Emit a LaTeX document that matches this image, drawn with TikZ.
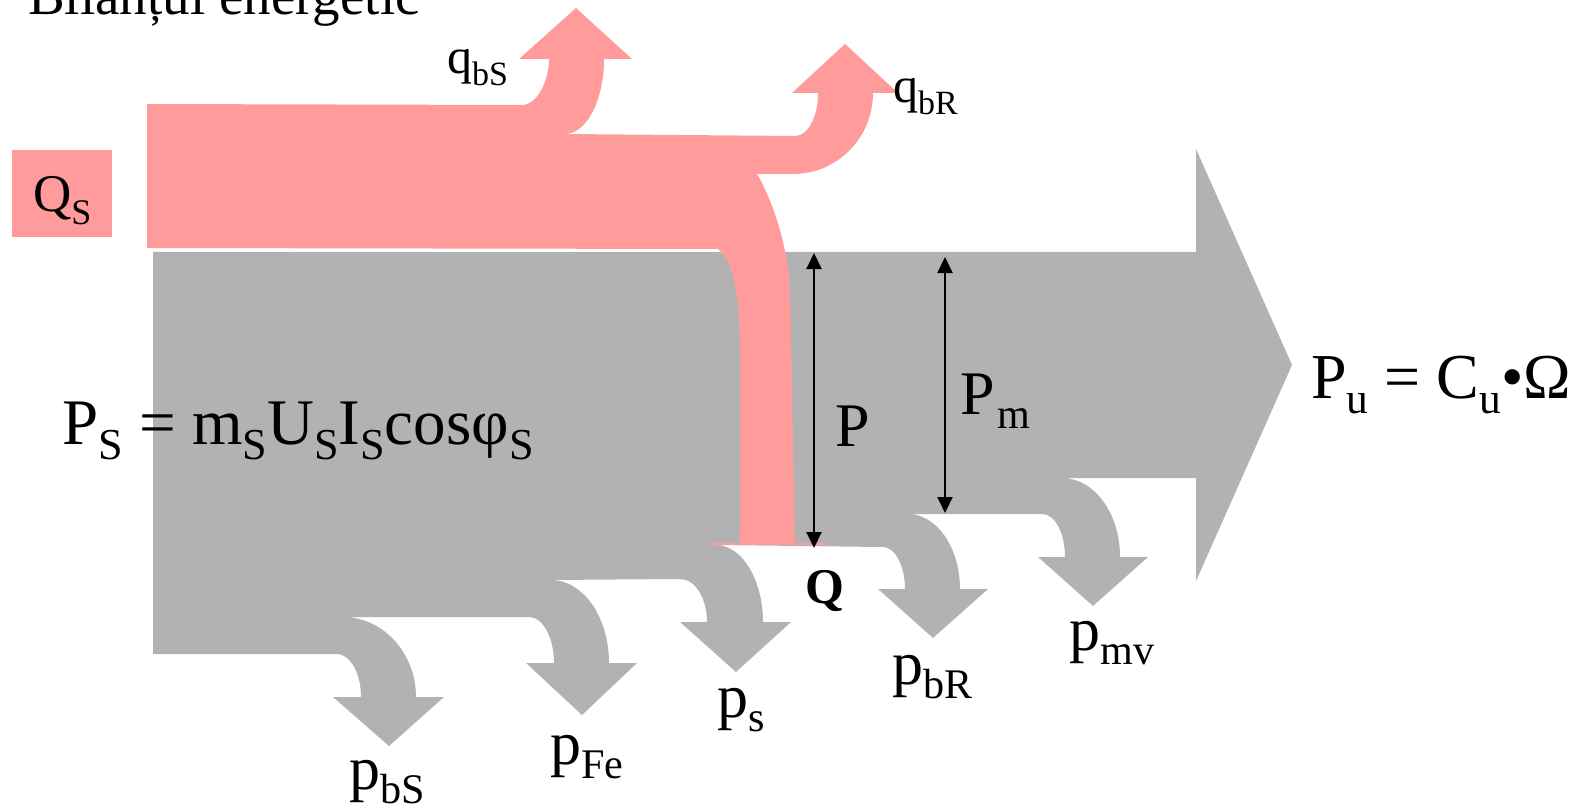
\documentclass[tikz,border=0pt]{standalone}
\usepackage{fontspec}
\setmainfont{Liberation Serif}
\usetikzlibrary{arrows.meta}
\definecolor{pinkflow}{RGB}{255,155,155}
\definecolor{grayflow}{RGB}{178,178,178}
\makeatletter
\newcommand\lowsub[1]{\raisebox{-0.24em}{\fontsize{\fpeval{0.68*\f@size}}{0}\selectfont #1}}
\makeatother
\begin{document}
\begin{tikzpicture}[x=1pt,y=-1pt,
  lbl/.style={inner sep=0pt, anchor=base west, font=\fontsize{62}{62}\selectfont},
  small/.style={inner sep=0pt, anchor=base west, font=\fontsize{50}{50}\selectfont},
  dimarrow/.style={{Triangle[length=16pt,width=15pt]}-{Triangle[length=16pt,width=15pt]}, line width=2pt, black}]
\useasboundingbox (0,0) rectangle (1578,810);

% gray flow (active power and losses)
\fill[grayflow] (153,252) -- (1196,252) -- (1196,149) -- (1292,365) -- (1196,581) -- (1196,478)
  -- (1062,478) .. controls (1094,478) and (1120,513) .. (1120,557)
  -- (1148,557) -- (1093,606) -- (1038,557) -- (1065,557)
  .. controls (1065,533) and (1055,514) .. (1042,514)
  -- (908,514) .. controls (937,514) and (960,548) .. (960,589)
  -- (988,589) -- (933,638) -- (878,589) -- (905,589)
  .. controls (905,566) and (895,547) .. (883,547)
  -- (716,545) .. controls (742,545) and (763,580) .. (763,622)
  -- (791,622) -- (736,672) -- (680,622) -- (707,622)
  .. controls (707,598) and (695,579) .. (680,579)
  -- (551,580) .. controls (583,580) and (609,617) .. (609,663)
  -- (637,663) -- (582,715) -- (526,663) -- (554,663)
  .. controls (554,638) and (543,617) .. (529,617)
  -- (343,617) .. controls (383,617) and (416,653) .. (416,697)
  -- (444,697) -- (389,746) -- (333,697) -- (361,697)
  .. controls (361,673) and (350,654) .. (337,654)
  -- (153,654) -- cycle;

% pink flow (reactive power)
\fill[pinkflow] (147,104) -- (522,105) .. controls (537,105) and (549,81) .. (549,59)
  -- (519,59) -- (576,8) -- (632,59) -- (604,59)
  .. controls (604,101) and (586,134) .. (565,134)
  -- (795,136) .. controls (808,136) and (818,117) .. (818,93)
  -- (792,93) -- (845,44) -- (898,93) -- (873,93)
  .. controls (873,138) and (837,174) .. (793,174)
  -- (757,174) .. controls (775,205) and (788,250) .. (790,290)
  -- (795,543) -- (740,543) -- (740,360)
  .. controls (740,300) and (735,262) .. (718,249)
  -- (147,248) -- cycle;
\fill[pinkflow] (712,542.5) rectangle (825,545);

% Q_S box
\node (qsbox) [fill=pinkflow, minimum width=100pt, minimum height=87pt, inner sep=0pt] at (62,193.5) {};
\node (qs) [lbl, font=\fontsize{53}{53}\selectfont] at (33,212) {Q\lowsub{S}};

% title
\node (title) [lbl, font=\fontsize{55}{55}\selectfont] at (28,15) {Bilanțul energetic};

% labels
\node (qbs) [small] at (447,74) {q\lowsub{bS}};
\node (qbr) [small] at (893,103) {q\lowsub{bR}};
\node (ps) [lbl, font=\fontsize{65}{65}\selectfont] at (62,444) {P\lowsub{S} = m\lowsub{S}U\lowsub{S}I\lowsub{S}cosφ\lowsub{S}};
\node (plbl) [lbl] at (835,446) {P};
\node (pm) [lbl] at (960,414) {P\kern3pt\lowsub{m}};
\node (qlbl) [lbl, font=\fontsize{50}{50}\selectfont\bfseries] at (805,603) {Q};
\node (pu) [lbl, font=\fontsize{64}{64}\selectfont] at (1311,398) {P\lowsub{u} = C\lowsub{u}•Ω};
\node (pbs) [lbl] at (349,789) {p\lowsub{bS}};
\node (pfe) [lbl] at (550,764) {p\lowsub{Fe}};
\node (pss) [lbl] at (717,717) {p\lowsub{s}};
\node (pbr) [lbl] at (892,684) {p\lowsub{bR}};
\node (pmv) [lbl] at (1069,650) {p\lowsub{mv}};

% dimension arrows
\coordinate (pa) at (814,253);
\coordinate (pb) at (814,548);
\coordinate (pma) at (945,257);
\coordinate (pmb) at (945,513);
\draw[dimarrow] (pa) -- (pb);
\draw[dimarrow] (pma) -- (pmb);
\end{tikzpicture}
\end{document}
